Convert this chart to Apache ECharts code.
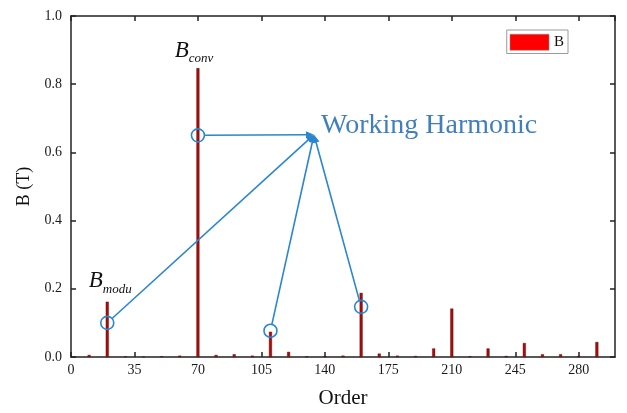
<!DOCTYPE html>
<html>
<head>
<meta charset="utf-8">
<script src="https://cdn.jsdelivr.net/npm/echarts@6/dist/echarts.min.js"></script>
<style>
  html, body { margin: 0; padding: 0; background: #fff; }
  #chart { width: 627px; height: 413px; }
</style>
</head>
<body>
<div id="chart"></div>
<script>
// Harmonic orders of the air-gap flux density spectrum
const orders = [10, 20, 30, 40, 50, 60, 70, 80, 90, 100, 110, 120, 130, 140, 150,
  160, 170, 180, 190, 200, 210, 220, 230, 240, 250, 260, 270, 280, 290];
// Amplitude of each harmonic, B (T)
const amplitudes = [0.006, 0.162, 0.002, 0.001, 0.002, 0.004, 0.847, 0.006, 0.008, 0.004,
  0.074, 0.015, 0.002, 0.002, 0.004, 0.188, 0.010, 0.004, 0.003, 0.025,
  0.142, 0.002, 0.025, 0.003, 0.041, 0.008, 0.008, 0.003, 0.044];

// Highlighted harmonics (circled) and where the arrows meet
const markedOrders = [20, 70, 110, 160];
const markedValues = [0.100, 0.650, 0.077, 0.147];
const arrowTip = [134, 0.652];

const xTicks = [0, 35, 70, 105, 140, 175, 210, 245, 280];
const yTicks = [0.0, 0.2, 0.4, 0.6, 0.8, 1.0];

const SERIF = '"Liberation Serif", "Times New Roman", serif';
const BLUE = '#2a86d0';
const BAR_RED = '#a80c0c';

const barData = orders.map((o, i) => {
  const item = { value: [o, amplitudes[i]] };
  if (o === 70) {
    item.label = { show: true, position: 'top', distance: 6, offset: [-4, 0],
      formatter: '{b|B}{s|conv}' };
  } else if (o === 20) {
    item.label = { show: true, position: 'top', distance: 9, offset: [3, 0],
      formatter: '{b|B}{s|modu}' };
  }
  return item;
});

const richSub = {
  b: { fontFamily: SERIF, fontStyle: 'italic', fontSize: 23, color: '#111' },
  s: { fontFamily: SERIF, fontStyle: 'italic', fontSize: 13, color: '#111',
       verticalAlign: 'bottom', padding: [0, 0, -3, 0] }
};

const arrowData = markedOrders.map((o, i) => [o, markedValues[i], arrowTip[0], arrowTip[1]]);

function renderArrow(params, api) {
  const p0 = api.coord([api.value(0), api.value(1)]);
  const p1 = api.coord([api.value(2), api.value(3)]);
  const dx = p1[0] - p0[0], dy = p1[1] - p0[1];
  const len = Math.sqrt(dx * dx + dy * dy);
  const ux = dx / len, uy = dy / len;
  const r = 6.5, head = 8, half = 3.5;
  const s = [p0[0] + ux * r, p0[1] + uy * r];
  const b = [p1[0] - ux * head, p1[1] - uy * head];
  return {
    type: 'group',
    children: [
      { type: 'line', shape: { x1: s[0], y1: s[1], x2: b[0] + ux * 1, y2: b[1] + uy * 1 },
        style: { stroke: BLUE, lineWidth: 1.6 } },
      { type: 'polygon', shape: { points: [
          [p1[0], p1[1]],
          [b[0] - uy * half, b[1] + ux * half],
          [b[0] + uy * half, b[1] - ux * half]
        ] }, style: { fill: BLUE } }
    ]
  };
}

const axisLineStyle = { color: '#222', width: 1.5 };
const tickStyle = { inside: true, length: 5, lineStyle: { color: '#222', width: 1.5 } };

const option = {
  animation: false,
  backgroundColor: '#fff',
  grid: { left: 71, right: 12, top: 16, bottom: 56, containLabel: false, outerBoundsMode: 'none' },
  legend: {
    right: 59, top: 30,
    icon: 'rect',
    itemWidth: 39, itemHeight: 16,
    padding: [4, 4, 3, 3],
    borderColor: '#9a9a9a', borderWidth: 1,
    textStyle: { fontFamily: SERIF, fontSize: 15, color: '#111' },
    data: [{ name: 'B', itemStyle: { color: '#ff0000', borderColor: '#888', borderWidth: 0.5 } }]
  },
  xAxis: [{
    type: 'value', min: 0, max: 300, interval: 35,
    name: 'Order', nameLocation: 'middle', nameGap: 31,
    nameTextStyle: { fontFamily: SERIF, fontSize: 21, color: '#111' },
    axisLine: { onZero: false, lineStyle: axisLineStyle },
    axisTick: tickStyle,
    axisLabel: { margin: 6, fontFamily: SERIF, fontSize: 14, color: '#1a1a1a',
      showMaxLabel: false,
      formatter: v => (xTicks.indexOf(v) >= 0 ? String(v) : '') },
    splitLine: { show: false }
  }, {
    type: 'value', position: 'top', min: 0, max: 300, interval: 35,
    axisLine: { show: true, onZero: false, lineStyle: axisLineStyle },
    axisTick: tickStyle,
    axisLabel: { show: false }, splitLine: { show: false }
  }],
  yAxis: [{
    type: 'value', min: 0, max: 1.0, interval: 0.2,
    name: 'B (T)', nameLocation: 'middle', nameGap: 38,
    nameTextStyle: { fontFamily: SERIF, fontSize: 18, color: '#111' },
    axisLine: { show: true, onZero: false, lineStyle: axisLineStyle },
    axisTick: tickStyle,
    axisLabel: { margin: 9, fontFamily: SERIF, fontSize: 14, color: '#1a1a1a',
      formatter: v => yTicks.find(t => Math.abs(t - v) < 1e-9).toFixed(1) },
    splitLine: { show: false }
  }, {
    type: 'value', position: 'right', min: 0, max: 1.0, interval: 0.2,
    axisLine: { show: true, onZero: false, lineStyle: axisLineStyle },
    axisTick: tickStyle,
    axisLabel: { show: false }, splitLine: { show: false }
  }],
  series: [
    {
      name: 'B', type: 'bar', barWidth: 3, z: 2,
      itemStyle: { color: BAR_RED, borderColor: '#5a0000', borderWidth: 0.4 },
      label: { rich: richSub },
      data: barData
    },
    {
      name: 'arrows', type: 'custom', z: 3,
      renderItem: renderArrow,
      data: arrowData
    },
    {
      name: 'marks', type: 'scatter', z: 4,
      symbol: 'circle', symbolSize: 13,
      itemStyle: { color: 'rgba(0,0,0,0)', borderColor: BLUE, borderWidth: 1.6, opacity: 1 },
      data: markedOrders.map((o, i) => [o, markedValues[i]])
    },
    {
      name: 'tip', type: 'scatter', z: 4, symbolSize: 0,
      label: { show: true, position: 'right', distance: 7, offset: [0, -9],
        formatter: 'Working Harmonic',
        fontFamily: SERIF, fontSize: 28, color: '#0f5fb0' },
      data: [arrowTip]
    }
  ]
};

const chart = echarts.init(document.getElementById('chart'), null, { renderer: 'canvas' });
chart.setOption(option);
</script>
</body>
</html>
